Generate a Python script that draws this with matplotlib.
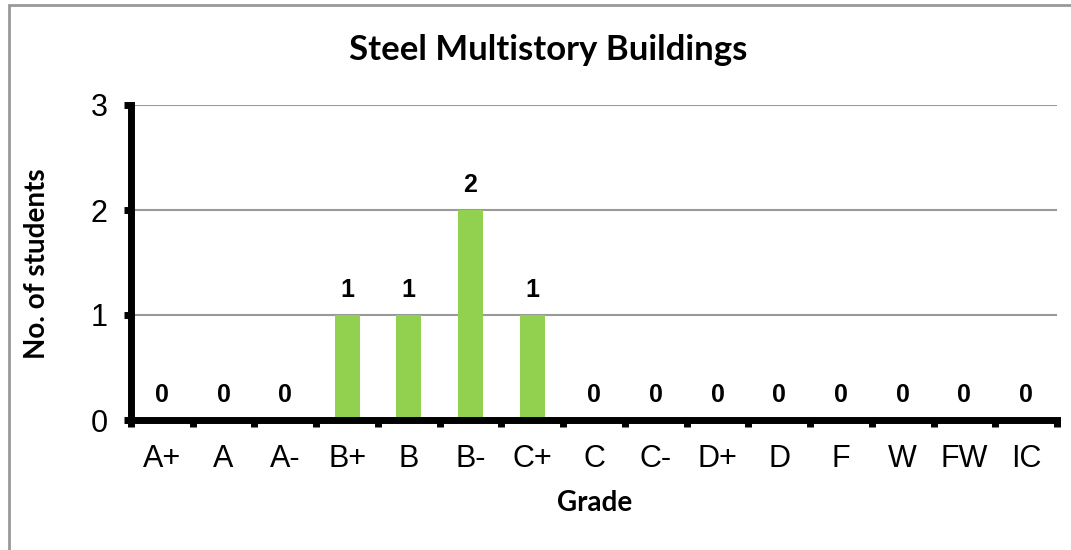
import matplotlib.pyplot as plt
from matplotlib.patches import Rectangle

grades = ['A+', 'A', 'A-', 'B+', 'B', 'B-', 'C+', 'C', 'C-', 'D+', 'D', 'F', 'W', 'FW', 'IC']
students = [0, 0, 0, 1, 1, 2, 1, 0, 0, 0, 0, 0, 0, 0, 0]

W, H = 1071, 550
fig = plt.figure(figsize=(W / 100, H / 100), dpi=100)

# chart frame (cut at right and bottom like the reference)
fig.patches.append(Rectangle((9 / W, -0.01), 1.1, 1 - 5 / H + 0.01, transform=fig.transFigure,
                             fill=False, edgecolor='#999999', linewidth=2))

ax = fig.add_axes([131 / W, 1 - 420 / H, (1057 - 131) / W, (420 - 105) / H])

x = list(range(len(grades)))
ax.bar(x, students, width=0.405, color='#92D050', zorder=3)

for xi, v in zip(x, students):
    ax.text(xi, v + 0.24, str(v), ha='center', va='center', fontsize=18,
            fontweight='bold', family='Liberation Sans')

ax.set_xlim(-0.5, len(grades) - 0.5)
ax.set_ylim(0, 3)
ax.set_yticks([0, 1, 2, 3])
ax.set_xticks([i - 0.5 for i in range(len(grades) + 1)], minor=False)
ax.set_xticklabels([])
ax.set_xticks(x, minor=True)
ax.set_xticklabels(grades, minor=True, fontsize=22, family='Liberation Sans')
ax.tick_params(axis='x', which='minor', length=0, pad=17)
ax.tick_params(axis='x', which='major', length=5, width=5, direction='out')
ax.tick_params(axis='y', length=5, width=5, direction='out', labelsize=22, pad=12)
for lab in ax.get_yticklabels():
    lab.set_family('Liberation Sans')

ax.grid(axis='y', color='#999999', linewidth=1.5, zorder=0)
for s in ['top', 'right']:
    ax.spines[s].set_visible(False)
for s in ['left', 'bottom']:
    ax.spines[s].set_linewidth(5)
    ax.spines[s].set_zorder(4)

fig.text(548 / W, 1 - 50 / H, 'Steel Multistory Buildings', fontsize=25, fontweight='bold',
         family='Lato', ha='center', va='center')
fig.text(595 / W, 1 - 503 / H, 'Grade', fontsize=20, fontweight='bold',
         family='Lato', ha='center', va='center')
fig.text(37 / W, 1 - 264 / H, 'No. of students', fontsize=20, fontweight='bold',
         family='Lato', ha='center', va='center', rotation=90)

fig.savefig('out.png', dpi=100)
